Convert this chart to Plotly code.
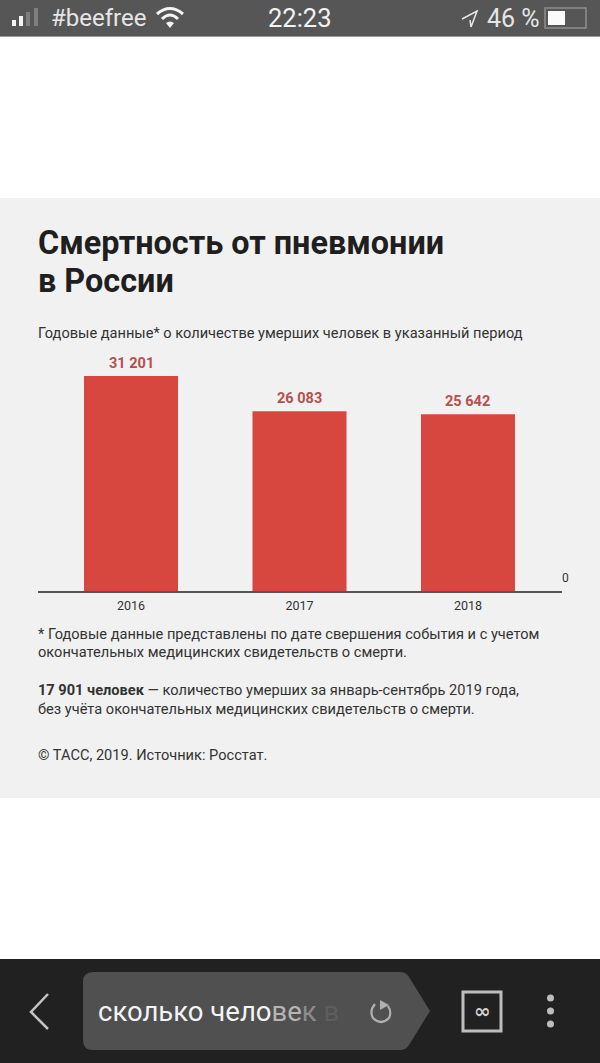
import plotly.graph_objects as go

W = 600
H = 1063

years = ["2016", "2017", "2018"]
deaths = [31201, 26083, 25642]
value_labels = ["31 201", "26 083", "25 642"]

BAR_RED = "#d8473f"
PANEL = "#f1f1f1"
TEXT = "#333333"
FONT = "Roboto, Arial, sans-serif"


def px(x):
    return x / W


def py(y):
    return 1 - y / H


def rect(x0, y0, x1, y1, color, **kw):
    return dict(type="rect", xref="paper", yref="paper", x0=px(x0), x1=px(x1),
                y0=py(y0), y1=py(y1), fillcolor=color, line=dict(width=0), layer="below", **kw)


def path(d, color="rgba(0,0,0,0)", line_color=None, width=0):
    # d is given in screen pixels, turned into paper coords here
    parts = []
    for cmd, x, y in d:
        parts.append(f"{cmd}{px(x):.5f},{py(y):.5f}")
    return dict(type="path", xref="paper", yref="paper", path=" ".join(parts) + (" Z" if width == 0 else ""),
                fillcolor=color, line=dict(color=line_color or color, width=width))


def label(x, y, text, size, color=TEXT, anchor="left", family=FONT):
    return dict(xref="paper", yref="paper", x=px(x), y=py(y), text=text, showarrow=False,
                xanchor=anchor, yanchor="middle", align=anchor,
                font=dict(size=size, color=color, family=family))


fig = go.Figure(
    go.Bar(
        x=years,
        y=deaths,
        marker=dict(color=BAR_RED, line=dict(width=0)),
        cliponaxis=False,
        hoverinfo="skip",
    )
)

shapes = [
    rect(0, 0, 600, 36, "#565656"),
    rect(0, 36, 600, 37, "#9a9a9a"),
    rect(0, 198, 600, 798, PANEL),
    rect(0, 959, 600, 1063, "#212121"),
    # signal bars
    rect(12, 20, 16, 26, "#f4f4f4"),
    rect(19, 16, 23, 26, "#f4f4f4"),
    rect(26, 12, 30, 26, "#7f7f7f"),
    rect(34, 8, 38, 26, "#7f7f7f"),
    # battery
    dict(type="rect", xref="paper", yref="paper", x0=px(545), x1=px(586), y0=py(8), y1=py(28),
         fillcolor="rgba(0,0,0,0)", line=dict(color="#8f8f8f", width=1.5)),
    rect(548, 11, 565, 25, "#fafafa"),
    # location arrow
    path([("M", 462, 19), ("L", 477, 11), ("L", 471, 27), ("L", 470, 20)], line_color="#e8e8e8", width=1.5),
    # wifi
    path([("M", 157, 14), ("Q", 170, 3), ("", 183, 14)], line_color="#f4f4f4", width=3),
    path([("M", 162, 19), ("Q", 170, 11), ("", 178, 19)], line_color="#f4f4f4", width=3),
    path([("M", 166, 23), ("L", 170, 28), ("L", 174, 23), ("Q", 170, 20), ("", 166, 23)], color="#f4f4f4"),
    # search box
    path([("M", 83, 982), ("Q", 83, 972), ("", 93, 972), ("L", 400, 972), ("Q", 406, 972), ("", 409, 977),
          ("L", 430, 1011), ("L", 409, 1045), ("Q", 406, 1050), ("", 400, 1050), ("L", 93, 1050),
          ("Q", 83, 1050), ("", 83, 1040)], color="#505050"),
    # back chevron
    path([("M", 48, 994), ("L", 31, 1012), ("L", 48, 1029)], line_color="#c4c4c4", width=2.5),
    # reload arc
    path([("M", 375, 1004), ("Q", 369, 1011), ("", 373, 1018), ("Q", 381, 1026), ("", 389, 1018), ("Q", 392, 1012), ("", 388, 1006)],
         line_color="#b0b0b0", width=2.2),
    path([("M", 380, 1000), ("L", 389, 1005), ("L", 380, 1010)], color="#b0b0b0"),
    # tabs box
    dict(type="rect", xref="paper", yref="paper", x0=px(463), x1=px(501), y0=py(992), y1=py(1031),
         fillcolor="rgba(0,0,0,0)", line=dict(color="#bdbdbd", width=3)),
]
# menu dots
for cy in (998, 1011, 1024):
    shapes.append(dict(type="circle", xref="paper", yref="paper", x0=px(547), x1=px(554), y0=py(cy - 3.5), y1=py(cy + 3.5),
                       fillcolor="#bdbdbd", line=dict(width=0)))

annotations = [
    label(49, 18.5, "#beefree", 24, "#e6e6e6"),
    label(300, 18.5, "22:23", 25.5, "#f2f2f2", "center"),
    label(485, 18.5, "46 %", 25, "#e6e6e6"),
    label(36, 243.5, "<b>Смертность от пневмонии</b>", 32.4, "#1f1f1f"),
    label(36, 281, "<b>в России</b>", 32.4, "#1f1f1f"),
    label(36, 333.5, "Годовые данные* о количестве умерших человек в указанный период", 14.6),
    label(36, 633.5, "* Годовые данные представлены по дате свершения события и с учетом", 14.6),
    label(36, 652, "окончательных медицинских свидетельств о смерти.", 14.6),
    label(36, 690, "<b>17 901 человек</b> — количество умерших за январь-сентябрь 2019 года,", 14.6),
    label(36, 709, "без учёта окончательных медицинских свидетельств о смерти.", 14.6),
    label(36, 755, "© ТАСС, 2019. Источник: Росстат.", 14.6),
    label(559.5, 578, "0", 12),
    label(96, 1011, "сколько чело<span style='color:#b5b5b5'>ве</span><span style='color:#8c8c8c'>к</span> <span style='color:#5e5e5e'>в</span>", 27.5, "#f4f4f4"),
    label(482, 1010.5, "<b>∞</b>", 20, "#d0d0d0", "center", "DejaVu Sans"),
]

# value labels sit on the bars; a category axis wants the index here, "2016" would read as position 2016
for i, (value, text) in enumerate(zip(deaths, value_labels)):
    annotations.append(dict(
        xref="x", yref="y", x=i, y=value, text=f"<b>{text}</b>", showarrow=False,
        yanchor="middle", yshift=12.5,
        font=dict(size=14.5, color="#b5504e", family=FONT),
    ))

fig.update_layout(
    width=W,
    height=H,
    margin=dict(l=0, r=0, t=0, b=0),
    paper_bgcolor="#ffffff",
    plot_bgcolor=PANEL,
    bargap=0.442,
    showlegend=False,
    shapes=shapes,
    annotations=annotations,
    xaxis=dict(
        domain=[px(38), px(562)],
        range=[-0.552, 2.558],
        type="category",
        showgrid=False,
        showline=True,
        linecolor="#555555",
        linewidth=1.5,
        ticks="outside",
        ticklen=2,
        tickcolor="rgba(0,0,0,0)",
        tickfont=dict(size=12.5, color=TEXT, family=FONT),
        fixedrange=True,
    ),
    yaxis=dict(
        domain=[py(591), py(345)],
        range=[0, 35700],
        visible=False,
        fixedrange=True,
    ),
)

fig.write_html(
    "out.html",
    config=dict(displayModeBar=False),
    post_script="document.body.style.margin='0';",
)
